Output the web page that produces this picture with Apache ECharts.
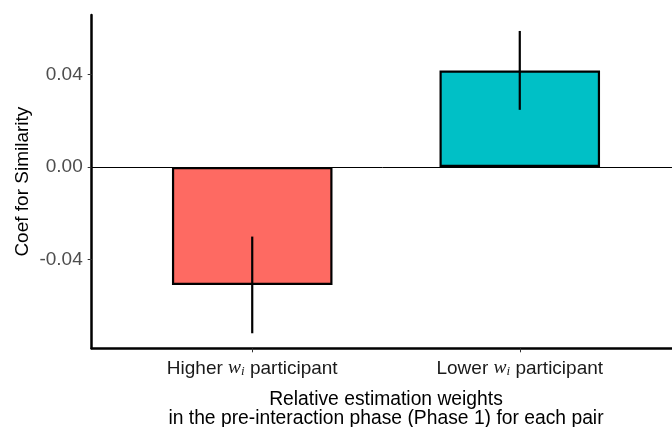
<!DOCTYPE html>
<html>
<head>
<meta charset="utf-8">
<script src="https://cdn.jsdelivr.net/npm/echarts@6/dist/echarts.min.js"></script>
<style>html,body{margin:0;padding:0;background:#fff}#c{width:672px;height:427px}</style>
</head>
<body>
<div id="c"></div>
<script>
// ---- data ----
const groups = ["Higher", "Lower"];
const groupPositions = [1, 2];
const coefValues = [-0.0510, 0.0417];
const errLow = [-0.0719, 0.0247];
const errHigh = [-0.0301, 0.0588];
const barColors = ["#FE6A62", "#00C0C6"];
const yTicks = [-0.04, 0, 0.04];
const xTitle = "Relative estimation weights\nin the pre-interaction phase (Phase 1) for each pair";
const yTitle = "Coef for Similarity";

// ---- layout ----
const gridLeft = 91.7, gridRight = -8.3, gridTop = 15, gridBottom = 78.7;
const xMin = 0.4, xMax = 2.6;
const gridW = 672 - gridLeft - gridRight;
const barW = 0.6 * gridW / (xMax - xMin);
const font = "'Liberation Sans', Arial, Helvetica, sans-serif";

const chart = echarts.init(document.getElementById('c'), null, {renderer: 'canvas'});
chart.setOption({
  animation: false,
  backgroundColor: '#ffffff',
  grid: {left: gridLeft, right: gridRight, top: gridTop, bottom: gridBottom, containLabel: false, outerBoundsMode: 'none'},
  xAxis: {
    type: 'value', min: xMin, max: xMax,
    splitLine: {show: false},
    axisLine: {onZero: false, lineStyle: {color: '#000', width: 2.5}},
    axisTick: {customValues: groupPositions, length: 4, lineStyle: {color: '#333', width: 1}},
    axisLabel: {
      customValues: groupPositions,
      margin: 10,
      formatter: v => '{t|' + groups[Math.round(v) - 1] + ' }{w|w}{s|i}{t| participant}',
      rich: {
        t: {fontSize: 19, color: '#1a1a1a', fontFamily: font},
        w: {fontSize: 19.5, color: '#1a1a1a', fontFamily: "'Liberation Serif', 'Times New Roman', serif", fontStyle: 'italic'},
        s: {fontSize: 13, color: '#1a1a1a', fontFamily: "'Liberation Serif', 'Times New Roman', serif", fontStyle: 'italic', padding: [7, 0, 0, 0]}
      }
    },
    name: xTitle, nameLocation: 'middle', nameGap: 42, nameMoveOverlap: false,
    nameTextStyle: {fontSize: 19.3, color: '#000', fontFamily: font, lineHeight: 19}
  },
  yAxis: {
    type: 'value', min: -0.0784, max: 0.0657,
    splitLine: {show: false},
    axisLine: {onZero: false, lineStyle: {color: '#000', width: 2.5}},
    axisTick: {customValues: yTicks, length: 4, lineStyle: {color: '#333', width: 1}},
    axisLabel: {customValues: yTicks, margin: 9, fontSize: 19, color: '#4d4d4d', fontFamily: font,
      formatter: v => v.toFixed(2)},
    name: yTitle, nameLocation: 'middle', nameGap: 59, nameMoveOverlap: false,
    nameTextStyle: {fontSize: 19, color: '#000', fontFamily: font}
  },
  series: [
    {
      type: 'bar',
      barWidth: barW,
      data: groupPositions.map((x, i) => ({value: [x, coefValues[i]], itemStyle: {color: barColors[i]}})),
      itemStyle: {borderColor: '#000', borderWidth: 2.2},
      markLine: {
        silent: true, symbol: ['none', 'none'], label: {show: false},
        lineStyle: {color: '#000', width: 1, type: 'solid'},
        data: [{yAxis: 0}]
      },
      z: 3
    },
    {
      type: 'custom',
      data: groupPositions.map((x, i) => [x, errLow[i], errHigh[i]]),
      renderItem: (params, api) => {
        const a = api.coord([api.value(0), api.value(1)]);
        const b = api.coord([api.value(0), api.value(2)]);
        return {type: 'line', shape: {x1: a[0], y1: a[1], x2: b[0], y2: b[1]},
          style: {stroke: '#000', lineWidth: 2.2}};
      },
      z: 5
    }
  ]
});
</script>
</body>
</html>
